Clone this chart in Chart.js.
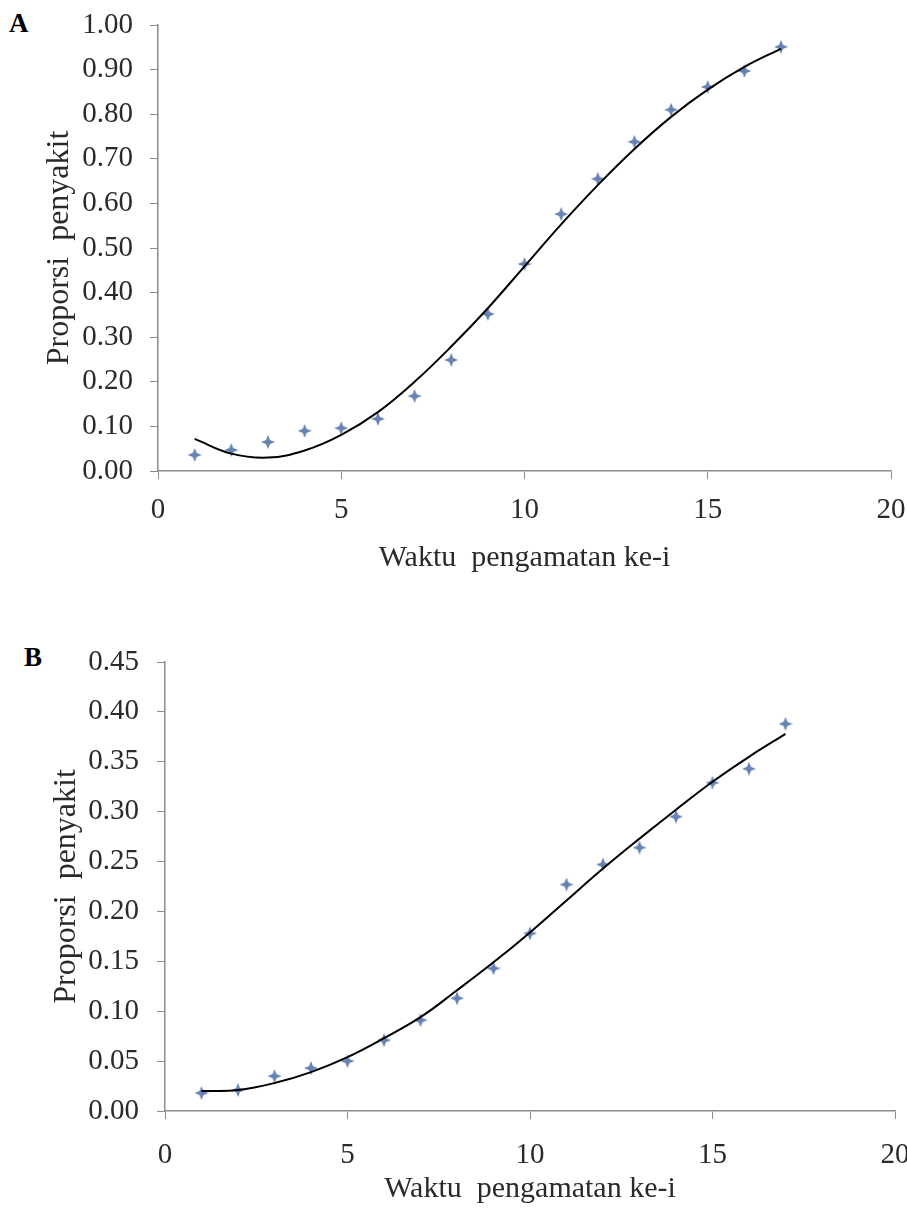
<!DOCTYPE html>
<html>
<head>
<meta charset="utf-8">
<script src="https://cdn.jsdelivr.net/npm/chart.js@4.4.1/dist/chart.umd.min.js"></script>
<style>
  body { margin: 0; background: #fff; }
  #wrap { position: relative; width: 907px; height: 1214px; }
  .panel { position: absolute; left: 0; width: 907px; }
  .tag { position: absolute; font: bold 27px "Liberation Serif", "Times New Roman", serif; line-height: 27px; color: #000; }
</style>
</head>
<body>
<div id="wrap">
  <div class="tag" style="left:9px; top:10px;">A</div>
  <div class="panel" style="top:0; height:600px;"><canvas id="chart-a" width="907" height="600"></canvas></div>
  <div class="tag" style="left:24px; top:644px;">B</div>
  <div class="panel" style="top:610px; height:604px;"><canvas id="chart-b" width="907" height="604"></canvas></div>
</div>
<script>
// waktu pengamatan ke-i
var waktu = [1, 2, 3, 4, 5, 6, 7, 8, 9, 10, 11, 12, 13, 14, 15, 16, 17];

// panel A: observed proportion and fitted curve
var obs_a = [0.036, 0.047, 0.065, 0.090, 0.096, 0.117, 0.168, 0.249, 0.352, 0.464, 0.576, 0.655, 0.738, 0.810, 0.861, 0.897, 0.951];
var fit_a = [0.072, 0.039, 0.030, 0.046, 0.081, 0.132, 0.200, 0.279, 0.365, 0.459, 0.553, 0.641, 0.722, 0.794, 0.855, 0.906, 0.947];

// panel B
var obs_b = [0.018, 0.021, 0.035, 0.043, 0.050, 0.071, 0.091, 0.113, 0.143, 0.178, 0.227, 0.247, 0.264, 0.295, 0.329, 0.343, 0.388];
var fit_b = [0.020, 0.021, 0.028, 0.039, 0.054, 0.073, 0.094, 0.121, 0.149, 0.179, 0.211, 0.243, 0.273, 0.302, 0.330, 0.355, 0.378];

var x_ticks = [0, 5, 10, 15, 20];
var y_ticks_a = [0, 0.1, 0.2, 0.3, 0.4, 0.5, 0.6, 0.7, 0.8, 0.9, 1.0];
var y_ticks_b = [0, 0.05, 0.10, 0.15, 0.20, 0.25, 0.30, 0.35, 0.40, 0.45];

var serif = '"Liberation Serif", "Times New Roman", serif';
var axisGray = '#8c8c8c';
var textGray = '#2a2a2a';

// four point star marker, like the excel one
function makeStar() {
    var c = document.createElement('canvas');
    c.width = 14; c.height = 14;
    var g = c.getContext('2d');
    g.fillStyle = '#6682b3';
    g.beginPath();
    g.moveTo(7, 0);
    g.lineTo(9, 5);
    g.lineTo(14, 7);
    g.lineTo(9, 9);
    g.lineTo(7, 14);
    g.lineTo(5, 9);
    g.lineTo(0, 7);
    g.lineTo(5, 5);
    g.closePath();
    g.fill();
    return c;
}
var star = makeStar();

function pairs(xs, ys) {
    return xs.map(function (x, i) { return { x: x, y: ys[i] }; });
}

function makeChart(id, obs, fit, yTicks, cfg) {
    var ctx = document.getElementById(id);
    return new Chart(ctx, {
        type: 'scatter',
        data: {
            datasets: [{
                type: 'line',
                data: pairs(waktu, fit),
                borderColor: '#000',
                borderWidth: 2,
                pointRadius: 0,
                tension: 0.4,
                fill: false,
                order: 0
            }, {
                data: pairs(waktu, obs),
                pointStyle: star,
                pointRadius: 7,
                order: 1
            }]
        },
        options: {
            responsive: false,
            animation: false,
            events: [],
            layout: { padding: cfg.padding },
            plugins: { legend: { display: false }, tooltip: { enabled: false } },
            scales: {
                x: {
                    type: 'linear',
                    min: 0, max: 20,
                    afterBuildTicks: function (s) { s.ticks = x_ticks.map(function (v) { return { value: v }; }); },
                    afterFit: function (s) { s.height = cfg.xHeight; s.paddingLeft = 0; s.paddingRight = 0; },
                    grid: { drawOnChartArea: false, drawTicks: true, tickLength: 8, color: axisGray },
                    border: { color: axisGray, width: 1.5 },
                    ticks: { color: textGray, padding: cfg.xTickPad, font: { family: serif, size: 29 }, maxRotation: 0 },
                    title: { display: true, text: 'Waktu  pengamatan ke-i', color: textGray,
                             font: { family: serif, size: 30 }, padding: { top: 0, bottom: cfg.xTitlePad } }
                },
                y: {
                    min: 0, max: yTicks[yTicks.length - 1],
                    afterBuildTicks: function (s) { s.ticks = yTicks.map(function (v) { return { value: v }; }); },
                    afterFit: function (s) { s.width = cfg.yWidth; s.paddingTop = 0; s.paddingBottom = 0; },
                    grid: { drawOnChartArea: false, drawTicks: true, tickLength: 8, color: axisGray },
                    border: { color: axisGray, width: 1.5 },
                    ticks: { color: textGray, padding: cfg.yTickPad, font: { family: serif, size: 29 },
                             callback: function (v) { return v.toFixed(2); } },
                    title: { display: true, text: 'Proporsi  penyakit', color: textGray,
                             font: { family: serif, size: 32 }, padding: { top: cfg.yTitlePad, bottom: 0 } }
                }
            }
        }
    });
}

// chart area A: left 158, right 891, top 25, bottom 471
makeChart('chart-a', obs_a, fit_a, y_ticks_a, {
    padding: { left: 0, right: 16, top: 25, bottom: 19 },
    xHeight: 110, yWidth: 158, yTickPad: 17, yTitlePad: 40, xTitlePad: 5, xTickPad: 14
});

// chart area B (canvas starts at 610): left 165, right 895, top 662, bottom 1111
makeChart('chart-b', obs_b, fit_b, y_ticks_b, {
    padding: { left: 0, right: 12, top: 52, bottom: 3 },
    xHeight: 100, yWidth: 165, yTickPad: 18, yTitlePad: 47, xTitlePad: 4, xTickPad: 19
});
</script>
</body>
</html>
